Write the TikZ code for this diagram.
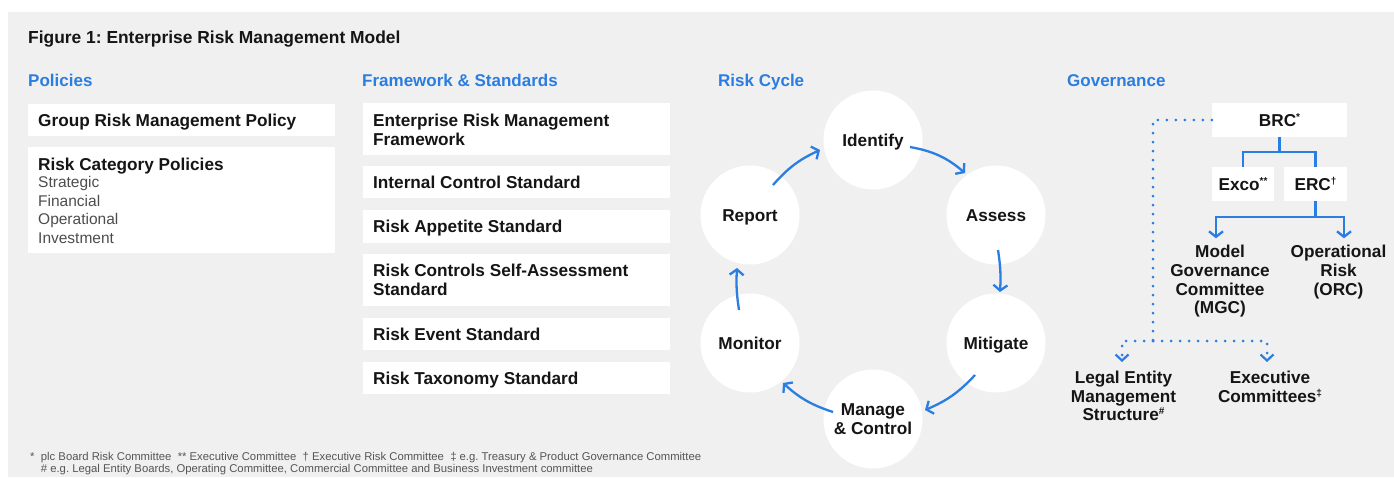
\documentclass[tikz,border=0pt]{standalone}
\usepackage{fontspec}
\setmainfont{Liberation Sans}
\usetikzlibrary{arrows.meta,calc}
\definecolor{panel}{HTML}{F0F0F0}
\definecolor{accent}{HTML}{2A7DE1}
\definecolor{ink}{HTML}{151515}
\definecolor{soft}{HTML}{4D4D4D}
\definecolor{notegray}{HTML}{555555}
% small raised footnote marks
\newcommand\supmark[1]{\raisebox{0.36em}{\fontsize{10}{10}\selectfont #1}}

\begin{document}
\frenchspacing
\begin{tikzpicture}[x=1pt,y=-1pt,
  bold/.style={font=\bfseries\fontsize{17.2}{18.6}\selectfont, text=ink, inner sep=0pt},
  txt/.style={bold, anchor=base west},
  plain/.style={font=\fontsize{15.5}{18.5}\selectfont, text=soft, inner sep=0pt, anchor=base west},
  heading/.style={font=\bfseries\fontsize{17}{19}\selectfont, text=accent, inner sep=0pt, anchor=base west},
  note/.style={font=\fontsize{11.3}{12}\selectfont, text=notegray, inner sep=0pt, anchor=base west},
  panelbox/.style={fill=white, draw=none, inner sep=0pt, anchor=north west},
  stage/.style={circle, fill=white, minimum size=99pt, inner sep=0pt, bold, align=center},
  oneline/.style={text height=13pt, text depth=0pt},
  cycarrow/.style={draw=accent, line width=2.3pt, -{Straight Barb[length=5.5pt,width=14pt]}},
  govbox/.style={fill=white, inner sep=0pt, bold, oneline},
  tree/.style={draw=accent, line width=2.3pt},
  treearrow/.style={tree, -{Straight Barb[length=5.5pt,width=14pt]}},
  dots/.style={draw=accent, line width=3pt, line cap=round, dash pattern=on 0pt off 9pt},
  dotarrow/.style={dots, -{Straight Barb[length=6pt,width=13pt,line width=2.2pt]}}
]
\useasboundingbox (0,0) rectangle (1394,477);
\fill[white] (0,0) rectangle (1394,477);
\fill[panel] (8,12) rectangle (1394,477);

% title and column headings
\node[txt, font=\bfseries\fontsize{17.4}{19}\selectfont] (title) at (28,43.5) {Figure 1: Enterprise Risk Management Model};
\node[heading] (hpol) at (28,86) {Policies};
\node[heading] (hfw) at (362,86) {Framework \& Standards};
\node[heading] (hcyc) at (718,86) {Risk Cycle};
\node[heading] (hgov) at (1067,86) {Governance};

% policies column
\node[panelbox, minimum width=307pt, minimum height=32pt] (pgroup) at (28,104) {};
\node[txt] (tgroup) at (38,126.5) {Group Risk Management Policy};
\node[panelbox, minimum width=307pt, minimum height=106pt] (pcat) at (28,147) {};
\node[txt] (tcat) at (38,170) {Risk Category Policies};
\node[plain] (tstr) at (38,187.5) {Strategic};
\node[plain] (tfin) at (38,206) {Financial};
\node[plain] (tops) at (38,224.5) {Operational};
\node[plain] (tinv) at (38,243) {Investment};

% framework and standards column
\node[panelbox, minimum width=307pt, minimum height=52pt] (f1) at (363,103) {};
\node[txt] (tf1a) at (373,126.5) {Enterprise Risk Management};
\node[txt] (tf1b) at (373,145.3) {Framework};
\node[panelbox, minimum width=307pt, minimum height=32pt] (f2) at (363,166) {};
\node[txt] (tf2) at (373,188.3) {Internal Control Standard};
\node[panelbox, minimum width=307pt, minimum height=33pt] (f3) at (363,210) {};
\node[txt] (tf3) at (373,232) {Risk Appetite Standard};
\node[panelbox, minimum width=307pt, minimum height=52pt] (f4) at (363,254) {};
\node[txt] (tf4a) at (373,276.7) {Risk Controls Self-Assessment};
\node[txt] (tf4b) at (373,295.3) {Standard};
\node[panelbox, minimum width=307pt, minimum height=32pt] (f5) at (363,318) {};
\node[txt] (tf5) at (373,340) {Risk Event Standard};
\node[panelbox, minimum width=307pt, minimum height=32pt] (f6) at (363,362) {};
\node[txt] (tf6) at (373,384.3) {Risk Taxonomy Standard};

% risk cycle
\node[stage, oneline] (id) at (873,140) {Identify};
\node[stage, oneline] (as) at (996,215) {Assess};
\node[stage, oneline] (mi) at (996,343) {Mitigate};
\node[stage] (ma) at (873,419) {Manage\\\& Control};
\node[stage, oneline] (mo) at (750,343) {Monitor};
\node[stage, oneline] (re) at (750,215) {Report};

\draw[cycarrow] ($(id)+(37,7)$) to[bend left=15] ($(as)+(-31,-42)$);
\draw[cycarrow] ($(as)+(2,35)$) to[bend left=6] ($(mi)+(4,-51)$);
\draw[cycarrow] ($(mi)+(-21,32)$) to[bend left=12] ($(ma)+(52,-9)$);
\draw[cycarrow] ($(ma)+(-40,-7)$) to[bend left=12] ($(mo)+(33,40)$);
\draw[cycarrow] ($(mo)+(-11,-33)$) to[bend left=6] ($(re)+(-13,53)$);
\draw[cycarrow] ($(re)+(23,-30)$) to[bend left=12] ($(id)+(-53,10)$);

% governance
\node[govbox, minimum width=135pt, minimum height=34pt] (brc) at (1279.5,120) {BRC\supmark{*}};
\node[govbox, minimum width=62pt, minimum height=34pt] (exco) at (1243,184) {Exco\supmark{**}};
\node[govbox, minimum width=63pt, minimum height=34pt] (erc) at (1315.5,184) {ERC\supmark{†}};
\node[bold, align=center, anchor=north] (mgc) at (1220,245.3) {Model\\Governance\\Committee\\(MGC)};
\node[bold, align=center, anchor=north] (orc) at (1338.5,245.3) {Operational\\Risk\\(ORC)};
\node[bold, align=center, anchor=north] (lem) at (1123.5,371) {Legal Entity\\Management\\Structure\supmark{\#}};
\node[bold, align=center, anchor=north] (exc) at (1270,371) {Executive\\Committees\supmark{‡}};

\coordinate (j1) at ($(brc.south)+(0,15)$);
\draw[tree] (brc.south) -- (j1);
\draw[tree] (exco.north) |- (j1) -| (erc.north);
\coordinate (j2) at ($(erc.south)+(0,16)$);
\draw[tree] (erc.south) -- (j2);
\draw[treearrow] (j2) -| ($(mgc.north)+(-4,-7)$);
\draw[treearrow] (j2) -| ($(orc.north)+(5.5,-7)$);

\coordinate (j3) at (1153,341);
\draw[dots] (brc.west) -| (j3);
\draw[dotarrow] (j3) -| ($(lem.north)+(-1.5,-9)$);
\draw[dotarrow] (j3) -| ($(exc.north)+(-3,-9)$);

% footnotes
\node[note] (n0) at (30,460.7) {*};
\node[note] (n1) at (40.7,460.7) {plc Board Risk Committee\ \ ** Executive Committee\ \ † Executive Risk Committee\ \ ‡ e.g. Treasury \& Product Governance Committee};
\node[note] (n2) at (40.7,472) {\# e.g. Legal Entity Boards, Operating Committee, Commercial Committee and Business Investment committee};
\end{tikzpicture}
\end{document}
